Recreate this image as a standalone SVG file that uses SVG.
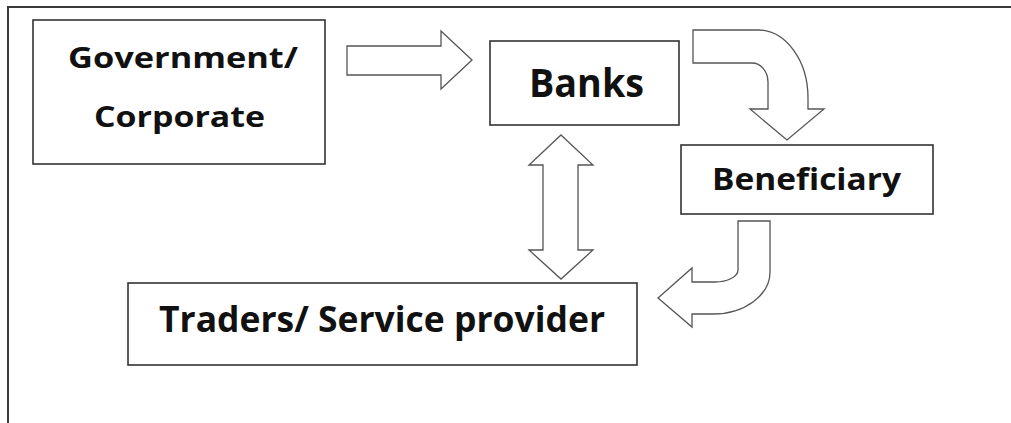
<svg xmlns="http://www.w3.org/2000/svg" width="1011" height="423" viewBox="0 0 1011 423">
<style>
.box{fill:#fff;stroke:#333;stroke-width:1.6}
.arr{fill:#fff;stroke:#555;stroke-width:1.3;stroke-linejoin:miter}
.lbl{font-family:"Open Sans","Liberation Sans",sans-serif;font-weight:bold;fill:#111;text-anchor:middle}
</style>
<rect width="1011" height="423" fill="#fff"/>
<g id="frame" fill="none" stroke="#3a3a3a" stroke-width="2">
<path d="M8,423 L8,7 L1011,7"/>
</g>
<g id="connectors">
<path class="arr" d="M347,46 L441,46 L441,31 L472,60 L441,89 L441,75 L347,75 Z"/>
<path class="arr" d="M693,30 L758,30 A50,68 0 0 1 808,98 L808,109 L824,109 L787,140 L750,109 L768,109 L768,82 A16,19 0 0 0 752,63 L693,63 Z"/>
<path class="arr" d="M561,135 L593,165 L578,165 L578,250 L593,250 L561,279 L529,250 L543,250 L543,165 L529,165 Z"/>
<path class="arr" d="M738,221 L770,221 L770,272 A57,42 0 0 1 713,314 L692,314 L692,327 L658,298 L692,268 L692,282 L715,282 A23,12 0 0 0 738,270 Z"/>
</g>
<g id="government">
<rect class="box" x="33" y="20" width="292" height="144"/>
<text class="lbl" x="183" y="68" font-size="29" textLength="230" lengthAdjust="spacingAndGlyphs">Government/</text>
<text class="lbl" x="179.5" y="127" font-size="29" textLength="171" lengthAdjust="spacingAndGlyphs">Corporate</text>
</g>
<g id="banks">
<rect class="box" x="490" y="41" width="189" height="84"/>
<text class="lbl" x="586.5" y="97" font-size="40" textLength="115" lengthAdjust="spacingAndGlyphs">Banks</text>
</g>
<g id="beneficiary">
<rect class="box" x="681" y="145" width="252" height="69"/>
<text class="lbl" x="806.5" y="190" font-size="31" textLength="189" lengthAdjust="spacingAndGlyphs">Beneficiary</text>
</g>
<g id="traders">
<rect class="box" x="128" y="283" width="509" height="82"/>
<text class="lbl" x="382" y="332" font-size="35" textLength="446" lengthAdjust="spacingAndGlyphs">Traders/ Service provider</text>
</g>
</svg>
